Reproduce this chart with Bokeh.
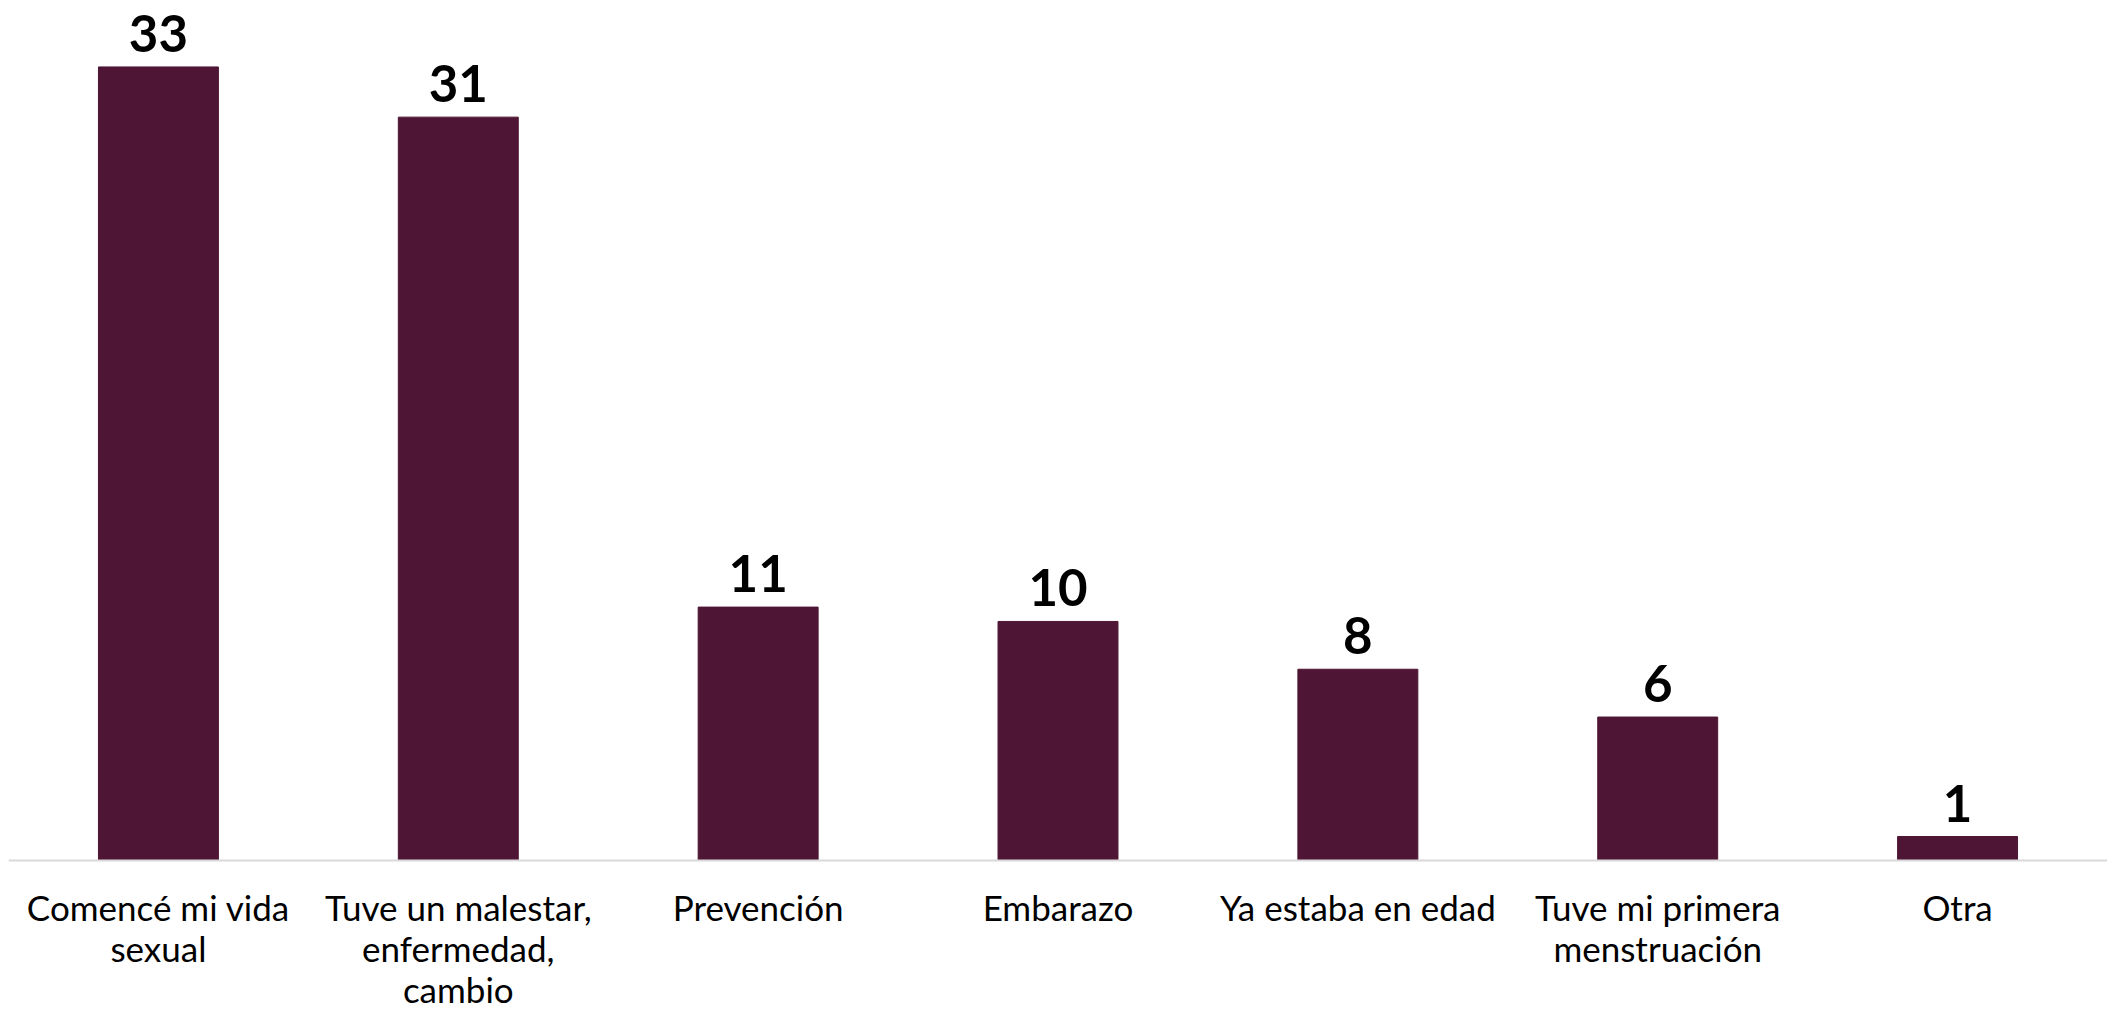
from bokeh.plotting import figure
from bokeh.models import ColumnDataSource, LabelSet, FactorRange, Range1d, Span
from bokeh.core.properties import value
from bokeh.embed import file_html
from bokeh.resources import INLINE

categories = ["Comencé mi vida sexual", "Tuve un malestar, enfermedad, cambio",
              "Prevención", "Embarazo", "Ya estaba en edad",
              "Tuve mi primera menstruación", "Otra"]
tick_labels = ["Comencé mi vida\nsexual", "Tuve un malestar,\nenfermedad,\ncambio",
               "Prevención", "Embarazo", "Ya estaba en edad",
               "Tuve mi primera\nmenstruación", "Otra"]
values = [33.2, 31.1, 10.6, 10.0, 8.0, 6.0, 1.0]

lines = [t.split("\n") + [""] * (3 - len(t.split("\n"))) for t in tick_labels]

source = ColumnDataSource(dict(
    cat=categories, val=values, zero=[0] * len(values),
    lbl=[f"{v:.0f}" for v in values],
    l1=[l[0] for l in lines], l2=[l[1] for l in lines], l3=[l[2] for l in lines]))

p = figure(x_range=FactorRange(*categories), y_range=Range1d(-6.32, 35.98),
           width=2107, height=1011, output_backend="svg",
           toolbar_location=None, min_border_left=8, min_border_right=0,
           min_border_top=0, min_border_bottom=0)

p.vbar(x="cat", top="val", width=0.4, source=source,
       fill_color="#4E1534", line_color="#4E1534")

p.add_layout(Span(location=0, dimension="width", line_color="#D9D9D9", line_width=2))

p.add_layout(LabelSet(x="cat", y="val", text="lbl", source=source,
                      text_align="center", text_baseline="alphabetic", y_offset=15,
                      text_font=value("Lato"), text_font_style="bold",
                      text_font_size=value("51px"), text_color="#000000"))

for col, off in (("l1", -47), ("l2", -88), ("l3", -129)):
    p.add_layout(LabelSet(x="cat", y="zero", text=col, source=source,
                          text_align="center", text_baseline="middle", y_offset=off,
                          text_font=value("Lato"), text_font_size=value("35px"),
                          text_color="#000000"))

p.outline_line_color = None
p.xgrid.grid_line_color = None
p.ygrid.grid_line_color = None
p.xaxis.visible = False
p.yaxis.visible = False

open("out.html", "w").write(file_html(p, INLINE))
